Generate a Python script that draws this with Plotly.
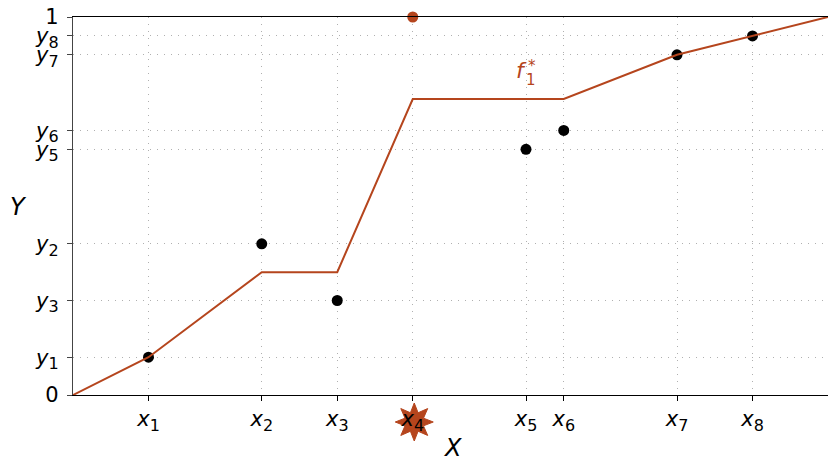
import math
import plotly.graph_objects as go

# Observations (x_i, y_i); the point at x4 is highlighted
obs_x = [1, 2.5, 3.5, 4.5, 6, 6.5, 8, 9]
obs_y = [0.10, 0.40, 0.25, 1.00, 0.65, 0.70, 0.90, 0.95]
highlight_index = 3

# Monotone fit f1*
fit_x = [0, 1, 2.5, 3.5, 4.5, 6.5, 8, 9, 10]
fit_y = [0, 0.10, 0.325, 0.325, 0.783, 0.783, 0.90, 0.95, 1.0]

# Axis ticks
SUB = '<sub><span style="font-size:16px">%s</span></sub>'
x_tickvals = obs_x
x_ticktext = ["<i>x</i>" + SUB % i for i in range(1, 9)]
y_tickvals = [0, 0.10, 0.25, 0.40, 0.65, 0.70, 0.90, 0.95, 1.0]
y_sub_ids = [None, 1, 3, 2, 5, 6, 7, 8, None]
y_ticktext = ["0"] + ["<i>y</i>" + SUB % i for i in y_sub_ids[1:-1]] + ["1"]

X_RANGE = [0, 10]
Y_RANGE = [0, 1]

W, H = 828, 462
ML, MR, MT, MB = 73, 0, 17, 67
PW, PH = W - ML - MR, H - MT - MB

ORANGE = "#b5451d"
FONT = "DejaVu Sans"


def px_to_paper_x(px):
    return (px - ML) / PW


def px_to_paper_y(py):
    return (H - MB - py) / PH


fig = go.Figure()

# black observation dots
blk_x = [x for i, x in enumerate(obs_x) if i != highlight_index]
blk_y = [y for i, y in enumerate(obs_y) if i != highlight_index]
fig.add_trace(go.Scatter(x=blk_x, y=blk_y, mode="markers",
                         marker=dict(color="black", size=11),
                         cliponaxis=False, showlegend=False, hoverinfo="skip"))

# fitted piecewise-linear function
fig.add_trace(go.Scatter(x=fit_x, y=fit_y, mode="lines",
                         line=dict(color=ORANGE, width=2),
                         cliponaxis=False, showlegend=False, hoverinfo="skip"))

# highlighted observation
fig.add_trace(go.Scatter(x=[obs_x[highlight_index]], y=[obs_y[highlight_index]],
                         mode="markers", marker=dict(color=ORANGE, size=11),
                         cliponaxis=False, showlegend=False, hoverinfo="skip"))

# 8-pointed star under the x4 tick label
r_out, r_in, n_pts = 19, 10, 8
pts = []
for k in range(2 * n_pts):
    r = r_out if k % 2 == 0 else r_in
    a = math.pi / 2 + k * math.pi / n_pts
    pts.append((r * math.cos(a) + 1.5, r * math.sin(a) - 27))
star_path = "M " + " L ".join("%.2f,%.2f" % p for p in pts) + " Z"
star_x = (obs_x[highlight_index] - X_RANGE[0]) / (X_RANGE[1] - X_RANGE[0])
fig.add_shape(type="path", path=star_path, xref="paper", yref="paper",
              xsizemode="pixel", ysizemode="pixel", xanchor=star_x, yanchor=0,
              fillcolor=ORANGE, line=dict(color=ORANGE, width=1), layer="below")

grid = dict(gridcolor="#b0b0b0", gridwidth=1, griddash="1px,6px")

fig.update_xaxes(range=X_RANGE, tickvals=x_tickvals, ticktext=x_ticktext,
                 showline=True, linecolor="black", linewidth=1.3, mirror=True,
                 ticks="outside", ticklen=5, tickcolor="black",
                 tickfont=dict(family=FONT, size=21, color="black"),
                 showgrid=True, zeroline=False, **grid)
fig.update_yaxes(range=Y_RANGE, tickvals=y_tickvals, ticktext=y_ticktext,
                 showline=True, linecolor="#444444", linewidth=1.3,
                 ticks="outside", ticklen=5, tickcolor="#444444",
                 tickfont=dict(family=FONT, size=21, color="black"),
                 ticklabelstandoff=4,
                 showgrid=True, zeroline=False, **grid)

fig.add_annotation(text="<i>Y</i>", xref="paper", yref="paper",
                   x=px_to_paper_x(18), y=px_to_paper_y(207),
                   xanchor="center", yanchor="middle",
                   showarrow=False, font=dict(family=FONT, size=24, color="black"))
fig.add_annotation(text="<i>X</i>", xref="paper", yref="paper",
                   x=px_to_paper_x(452), y=px_to_paper_y(448),
                   xanchor="center", yanchor="middle",
                   showarrow=False, font=dict(family=FONT, size=24, color="black"))

# f1* label with stacked sub/superscript
fig.add_annotation(text="<i>f</i>", x=6, y=0.852, xshift=-5, yshift=2,
                   showarrow=False, font=dict(family=FONT, size=22, color=ORANGE))
fig.add_annotation(text="1", x=6, y=0.852, xshift=5, yshift=-7,
                   showarrow=False, font=dict(family=FONT, size=15, color=ORANGE))
fig.add_annotation(text="*", x=6, y=0.852, xshift=6, yshift=7,
                   showarrow=False, font=dict(family=FONT, size=15, color=ORANGE))

fig.update_layout(width=W, height=H,
                  margin=dict(l=ML, r=MR, t=MT, b=MB),
                  paper_bgcolor="white", plot_bgcolor="white",
                  font=dict(family=FONT, color="black"))

fig.write_html("out.html")
